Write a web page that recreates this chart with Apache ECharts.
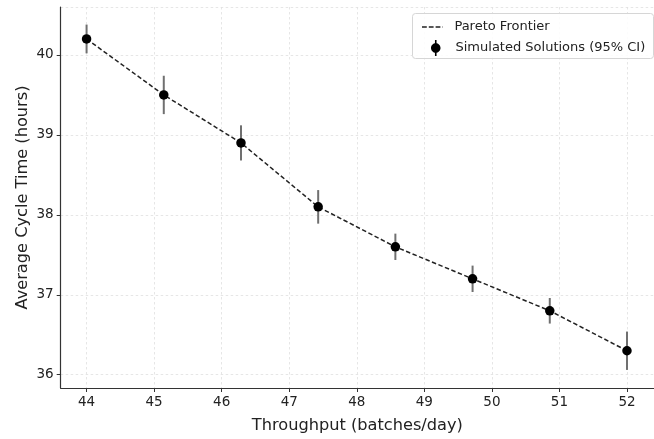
<!DOCTYPE html>
<html>
<head>
<meta charset="utf-8">
<script src="https://cdn.jsdelivr.net/npm/echarts@6/dist/echarts.min.js"></script>
<style>
  html, body { margin: 0; padding: 0; background: #fff; }
  #chart { width: 654px; height: 439px; }
</style>
</head>
<body>
<div id="chart"></div>
<script>
// Throughput (batches/day) for each simulated configuration
const throughput = [44, 45.142857, 46.285714, 47.428571, 48.571429, 49.714286, 50.857143, 52];
// Mean average cycle time (hours)
const cycleTime = [40.2, 39.5, 38.9, 38.1, 37.6, 37.2, 36.8, 36.3];
// Half-width of the 95% confidence interval (hours)
const ciHalf = [0.18, 0.24, 0.22, 0.21, 0.165, 0.165, 0.16, 0.24];

const FONT = 'DejaVu Sans';

const pointData = throughput.map((x, i) => [x, cycleTime[i]]);
const ciData = throughput.map((x, i) => [x, cycleTime[i] - ciHalf[i], cycleTime[i] + ciHalf[i]]);

const chart = echarts.init(document.getElementById('chart'), null, { renderer: 'canvas' });

const gridLine = { show: true, lineStyle: { color: '#e0e0e0', type: [2.5, 2.5], width: 0.8 } };

// legend glyph: filled dot with a short vertical error bar above and below
const dotWithBar = 'path://M0,8C0,5.38 2.13,3.25 4.75,3.25C7.37,3.25 9.5,5.38 9.5,8' +
  'C9.5,10.62 7.37,12.75 4.75,12.75C2.13,12.75 0,10.62 0,8z' +
  'M3.95,0h1.6v3.6h-1.6z M3.95,12.4h1.6v3.6h-1.6z';

chart.setOption({
  animation: false,
  backgroundColor: '#ffffff',
  grid: { left: 60.7, right: -9.1, top: 7, bottom: 45.2, containLabel: false },
  xAxis: {
    type: 'value',
    min: 43.617,
    max: 52.4,
    splitNumber: 8,
    name: 'Throughput (batches/day)',
    nameLocation: 'middle',
    nameGap: 30,
    nameMoveOverlap: false,
    nameTextStyle: { fontFamily: FONT, fontSize: 16.2, color: '#222' },
    axisLine: { show: true, onZero: false, lineStyle: { color: '#333', width: 1.2 } },
    axisTick: { show: true, inside: false, length: 4, lineStyle: { color: '#333', width: 1 } },
    axisLabel: { fontFamily: FONT, fontSize: 13.5, color: '#222', margin: 7, showMinLabel: false, showMaxLabel: false },
    splitLine: gridLine
  },
  yAxis: {
    type: 'value',
    min: 35.834,
    max: 40.6,
    splitNumber: 5,
    name: 'Average Cycle Time (hours)',
    nameLocation: 'middle',
    nameGap: 30,
    nameMoveOverlap: false,
    nameTextStyle: { fontFamily: FONT, fontSize: 16.2, color: '#222' },
    axisLine: { show: true, onZero: false, lineStyle: { color: '#333', width: 1.2 } },
    axisTick: { show: true, inside: false, length: 4, lineStyle: { color: '#333', width: 1 } },
    axisLabel: { fontFamily: FONT, fontSize: 13.5, color: '#222', margin: 7, showMinLabel: false, showMaxLabel: false },
    splitLine: gridLine
  },
  legend: [
    {
      data: [{ name: 'Pareto Frontier', icon: 'path://M0,0h6v2h-6z M8.5,0h6v2h-6z M17,0h6v2h-6z M25.5,0h0.5v2h-0.5z' }],
      left: 417, top: 15.5,
      itemWidth: 26, itemHeight: 1.6,
      textStyle: { fontFamily: FONT, fontSize: 13, color: '#222', padding: [0, 0, 0, 4] },
      selectedMode: false
    },
    {
      data: [{ name: 'Simulated Solutions (95% CI)', icon: dotWithBar }],
      left: 426, top: 35,
      itemWidth: 9.5, itemHeight: 16,
      textStyle: { fontFamily: FONT, fontSize: 13, color: '#222', padding: [0, 0, 0, 10] },
      selectedMode: false
    }
  ],
  graphic: [
    {
      type: 'rect',
      left: 412, top: 13,
      shape: { width: 241, height: 45, r: 3 },
      style: { fill: 'rgba(255,255,255,0.85)', stroke: '#d6d6d6', lineWidth: 1 },
      z: 2
    }
  ],
  series: [
    {
      name: 'Pareto Frontier',
      type: 'line',
      data: pointData,
      showSymbol: false,
      symbol: 'none',
      lineStyle: { color: '#222', width: 1.5, type: [4.5, 2.5] },
      itemStyle: { color: '#222' },
      z: 3
    },
    {
      name: 'Simulated Solutions (95% CI)',
      type: 'custom',
      data: ciData,
      renderItem: function (params, api) {
        const x = api.value(0);
        const lo = api.coord([x, api.value(1)]);
        const hi = api.coord([x, api.value(2)]);
        return {
          type: 'line',
          shape: { x1: lo[0], y1: lo[1], x2: hi[0], y2: hi[1] },
          style: { stroke: '#707070', lineWidth: 2 }
        };
      },
      encode: { x: 0, y: [1, 2] },
      itemStyle: { color: '#000' },
      z: 4
    },
    {
      name: 'Simulated Solutions (95% CI)',
      type: 'scatter',
      data: pointData,
      symbol: 'circle',
      symbolSize: 9.5,
      itemStyle: { color: '#000', opacity: 1 },
      z: 5
    }
  ]
});
</script>
</body>
</html>
